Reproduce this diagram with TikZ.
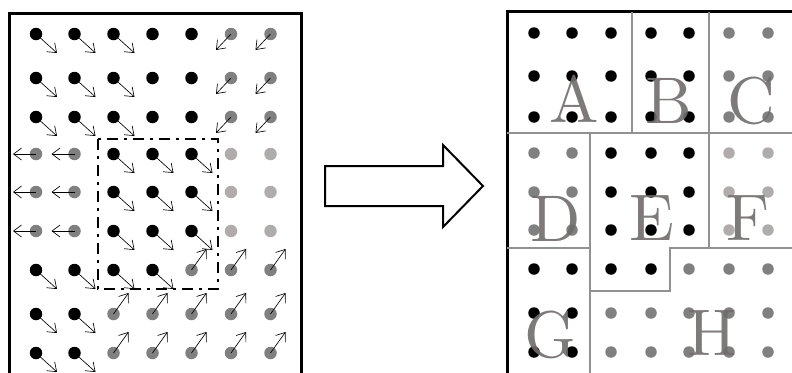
\documentclass[tikz,border=0pt]{standalone}
\usepackage{fontspec}
\usetikzlibrary{arrows.meta}
\newfontfamily\letfont{lmroman10-regular.otf}
\definecolor{dk}{RGB}{0,0,0}
\definecolor{dg}{RGB}{128,128,128}
\definecolor{dl}{RGB}{176,172,172}
\definecolor{regline}{RGB}{145,145,145}
\definecolor{lettc}{RGB}{112,108,108}
\newcommand\dotrow[6]{% #1 prefix, #2 row, #3 y, #4 xlist, #5 colours, #6 style
  \foreach \col [count=\c] in {#5}{%
    \pgfmathsetmacro\xx{{#4}[\c-1]}%
    \node[#6,fill=\col] (#1-#2-\c) at (\xx,#3) {};
  }}
\begin{document}
\begin{tikzpicture}[x=1pt,y=-1pt,
  ldot/.style={circle,inner sep=0pt,minimum size=12.5pt,draw=none},
  rdot/.style={circle,inner sep=0pt,minimum size=11.5pt,draw=none},
  arr/.style={line width=0.65pt,-{Straight Barb[length=8pt,width=12pt]}},
  frame/.style={line width=2.6pt},
  reg/.style={draw=regline,line width=1.6pt},
  lett/.style={text=lettc,text opacity=0.9,anchor=base,inner sep=0pt,font=\letfont\fontsize{66}{66}\selectfont},
  bigarrow/.style={line width=2pt,line join=miter,fill=white}]
\useasboundingbox (0,0) rectangle (792,372);
\clip (0,0) rectangle (792,372);
% ---------- left panel ----------
\draw[frame] (9.5,400) -- (9.5,13.5) -- (301.5,13.5) -- (301.5,400);
\def\LX{36,74.5,113.5,152.5,191.5,231,270.5}
\dotrow{L}{1}{34}{\LX}{dk,dk,dk,dk,dk,dg,dg}{ldot}
\dotrow{L}{2}{78}{\LX}{dk,dk,dk,dk,dk,dg,dg}{ldot}
\dotrow{L}{3}{117}{\LX}{dk,dk,dk,dk,dk,dg,dg}{ldot}
\dotrow{L}{4}{154}{\LX}{dg,dg,dk,dk,dk,dl,dl}{ldot}
\dotrow{L}{5}{192}{\LX}{dg,dg,dk,dk,dk,dl,dl}{ldot}
\dotrow{L}{6}{231}{\LX}{dg,dg,dk,dk,dk,dl,dl}{ldot}
\dotrow{L}{7}{270}{\LX}{dk,dk,dk,dk,dg,dg,dg}{ldot}
\dotrow{L}{8}{314}{\LX}{dk,dk,dg,dg,dg,dg,dg}{ldot}
\dotrow{L}{9}{353}{\LX}{dk,dk,dg,dg,dg,dg,dg}{ldot}
% arrows
\foreach \r in {1,2,3}{\foreach \c in {1,2,3}{\draw[arr] (L-\r-\c.center) -- ++(21,19);}}
\foreach \r in {1,2,3}{\foreach \c in {6,7}{\draw[arr] (L-\r-\c.center) -- ++(-15,16);}}
\foreach \r in {4,5,6}{\foreach \c in {1,2}{\draw[arr] (L-\r-\c.center) -- ++(-23,0);}}
\foreach \r in {4,5,6}{\foreach \c in {3,4,5}{\draw[arr] (L-\r-\c.center) -- ++(21,19);}}
\foreach \c in {1,2,3,4}{\draw[arr] (L-7-\c.center) -- ++(21,19);}
\foreach \c in {5,6,7}{\draw[arr] (L-7-\c.center) -- ++(15,-21);}
\foreach \r in {8,9}{\foreach \c in {1,2}{\draw[arr] (L-\r-\c.center) -- ++(21,19);}}
\foreach \r in {8,9}{\foreach \c in {3,4,5,6,7}{\draw[arr] (L-\r-\c.center) -- ++(15,-21);}}
% dash-dot window
\draw[line width=2.8pt,dash pattern=on 11pt off 6pt on 3pt off 6pt] (98,139) rectangle (218,289);
% ---------- big arrow ----------
\draw[bigarrow] (325,166) -- (443,166) -- (443,145) -- (483,186) -- (443,227) -- (443,206) -- (325,206) -- cycle;
% ---------- right panel ----------
\draw[frame] (507.5,400) -- (507.5,11.5) -- (800,11.5);
\draw[reg] (507,133) -- (800,133);
\draw[reg] (632,12) -- (632,133);
\draw[reg] (709,12) -- (709,248);
\draw[reg] (590,133) -- (590,380);
\draw[reg] (507,248) -- (590,248);
\draw[reg] (590,291) -- (670,291) -- (670,248) -- (800,248);
\def\RX{534,572,611,651,689,729,768}
\dotrow{R}{1}{33}{\RX}{dk,dk,dk,dk,dk,dg,dg}{rdot}
\dotrow{R}{2}{76}{\RX}{dk,dk,dk,dk,dk,dg,dg}{rdot}
\dotrow{R}{3}{117}{\RX}{dk,dk,dk,dk,dk,dg,dg}{rdot}
\dotrow{R}{4}{153}{\RX}{dg,dg,dk,dk,dk,dl,dl}{rdot}
\dotrow{R}{5}{192}{\RX}{dg,dg,dk,dk,dk,dl,dl}{rdot}
\dotrow{R}{6}{230}{\RX}{dg,dg,dk,dk,dk,dl,dl}{rdot}
\dotrow{R}{7}{269}{\RX}{dk,dk,dk,dk,dg,dg,dg}{rdot}
\dotrow{R}{8}{313}{\RX}{dk,dk,dg,dg,dg,dg,dg}{rdot}
\dotrow{R}{9}{352}{\RX}{dk,dk,dg,dg,dg,dg,dg}{rdot}
% region letters
\node[lett] (lA) at (574,122) {A};
\node[lett] (lB) at (669,123) {B};
\node[lett] (lC) at (751,123) {C};
\node[lett] (lD) at (556,241) {D};
\node[lett] (lE) at (652,240) {E};
\node[lett] (lF) at (748,240) {F};
\node[lett] (lG) at (550,357) {G};
\node[lett] (lH) at (712,355) {H};
\end{tikzpicture}
\end{document}
